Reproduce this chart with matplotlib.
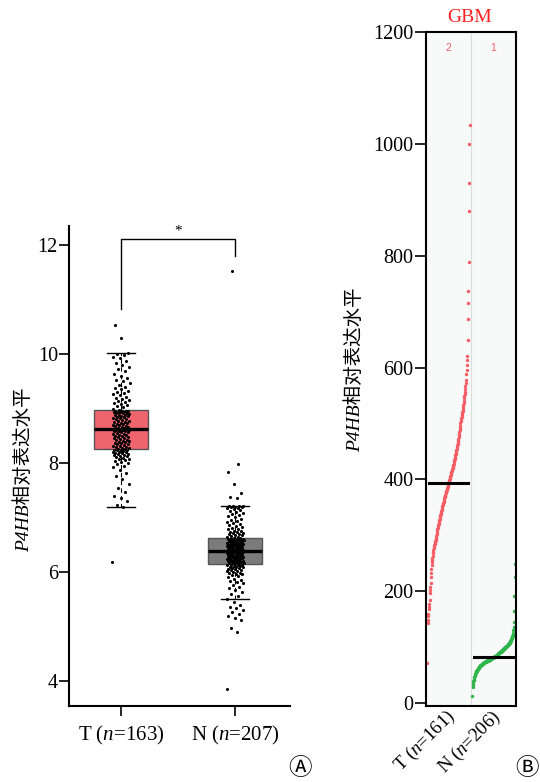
import matplotlib
matplotlib.use("Agg")
import matplotlib.pyplot as plt
import numpy as np

# ───────────────────────── data ───────────────────────── #

# panel A: P4HB expression, tumour vs normal (sorted values)
tumor_vals = [
    6.19,
    7.19, 7.22, 7.30, 7.35, 7.40, 7.46, 7.55, 7.62, 7.70, 7.76, 7.82, 7.88,
    7.92, 7.95, 7.98, 8.00, 8.02, 8.04, 8.05, 8.07, 8.08, 8.10, 8.11, 8.12, 8.13, 8.14,
    8.15, 8.16, 8.17, 8.18, 8.19, 8.20, 8.21, 8.21, 8.22, 8.23, 8.23, 8.24, 8.24, 8.25,
    8.26, 8.27, 8.28, 8.29, 8.30, 8.31, 8.32, 8.33, 8.34, 8.35, 8.36, 8.37, 8.38, 8.39,
    8.40, 8.41, 8.42, 8.43, 8.44, 8.45, 8.46, 8.47, 8.48, 8.49, 8.50, 8.51, 8.52, 8.53,
    8.54, 8.55, 8.56, 8.57, 8.58, 8.59, 8.59, 8.60, 8.61, 8.61, 8.62, 8.62,
    8.63,
    8.64, 8.65, 8.66, 8.66, 8.67, 8.68, 8.69, 8.70, 8.71, 8.72, 8.73, 8.74, 8.75, 8.76,
    8.77, 8.78, 8.79, 8.80, 8.81, 8.82, 8.83, 8.84, 8.85, 8.86, 8.87, 8.88, 8.89, 8.89,
    8.90, 8.91, 8.91, 8.92, 8.93, 8.93, 8.94, 8.94, 8.95, 8.95, 8.96, 8.96,
    8.98, 9.00, 9.02, 9.04, 9.06, 9.08, 9.10, 9.12, 9.14, 9.16, 9.18, 9.20, 9.22, 9.24,
    9.26, 9.28, 9.30, 9.32, 9.35, 9.38, 9.40, 9.43, 9.46, 9.50, 9.53, 9.56, 9.60, 9.64,
    9.68, 9.72, 9.76, 9.80, 9.84, 9.88, 9.92, 9.95, 9.98, 10.00, 10.02,
    10.29, 10.53,
]
normal_vals = [
    3.85,
    4.90, 4.97, 5.12, 5.15, 5.19, 5.22, 5.27, 5.30, 5.33, 5.36, 5.40, 5.44,
    5.50,
    5.56, 5.60, 5.63, 5.66, 5.70, 5.73, 5.76, 5.79, 5.82, 5.84, 5.86, 5.88, 5.90, 5.92,
    5.94, 5.96, 5.97, 5.98, 5.99, 6.00, 6.01, 6.02, 6.03, 6.04, 6.05, 6.06, 6.07, 6.08,
    6.09, 6.10, 6.10, 6.11, 6.11, 6.12, 6.12, 6.13, 6.13, 6.14,
    6.16, 6.16, 6.17, 6.17, 6.18, 6.18, 6.19, 6.19, 6.20, 6.20, 6.21, 6.21, 6.22, 6.22,
    6.23, 6.23, 6.24, 6.24, 6.25, 6.25, 6.26, 6.26, 6.27, 6.27, 6.28, 6.28, 6.29, 6.29,
    6.30, 6.30, 6.31, 6.31, 6.32, 6.32, 6.33, 6.33, 6.34, 6.34, 6.35, 6.35, 6.35, 6.36,
    6.36, 6.36, 6.37, 6.37, 6.37, 6.38, 6.38, 6.38, 6.38,
    6.39,
    6.39, 6.40, 6.40, 6.40, 6.41, 6.41, 6.41, 6.42, 6.42, 6.42, 6.43, 6.43, 6.44, 6.44,
    6.45, 6.45, 6.46, 6.46, 6.47, 6.47, 6.48, 6.48, 6.49, 6.49, 6.50, 6.50, 6.51, 6.51,
    6.52, 6.52, 6.53, 6.53, 6.54, 6.54, 6.55, 6.55, 6.56, 6.56, 6.57, 6.57, 6.58, 6.58,
    6.59, 6.59, 6.59, 6.60, 6.60, 6.60, 6.60, 6.60, 6.61,
    6.62, 6.63, 6.64, 6.65, 6.66, 6.67, 6.68, 6.69, 6.70, 6.71, 6.72, 6.73, 6.74, 6.75,
    6.76, 6.78, 6.79, 6.80, 6.82, 6.84, 6.86, 6.88, 6.90, 6.92, 6.94, 6.96, 6.98, 7.00,
    7.02, 7.04, 7.06, 7.08, 7.10, 7.12, 7.14, 7.16, 7.17, 7.18, 7.19, 7.20, 7.20, 7.21,
    7.21, 7.21, 7.21,
    7.35, 7.38, 7.45, 7.61, 7.83, 7.98, 11.52,
]
group_labels_a = ["T ($n$=163)", "N ($n$=207)"]

# panel B: GBM expression (sorted), tumour (n=161) and normal (n=206)
gbm_tumor = [
    72,
    143, 148, 155, 160, 168, 172, 178, 185, 197, 202, 207,
    215, 225, 232, 240, 247, 252, 256, 260, 264,
    268, 271, 274, 277, 280, 282, 284, 286, 288, 290, 291, 293, 296, 299,
    302, 305, 308, 311, 313, 315, 318, 320, 322, 325, 327, 330, 332, 334, 336, 338, 340,
    342, 344, 346, 348, 350, 352, 354, 356, 358, 360, 362, 364, 366, 368, 370, 371, 373,
    375, 377, 378, 380, 381, 383, 385, 386, 388, 390, 391, 393,
    395, 397, 399, 401, 402, 404, 406, 408, 410, 411, 413, 415, 417, 418, 420, 422,
    424, 426, 428, 431, 433, 435, 437, 439, 441, 443, 446, 448, 450, 452, 455, 458,
    461, 464, 467, 470, 473, 476, 479, 482, 485, 489, 492, 496, 501,
    504, 507, 510, 512, 515, 518, 520, 523, 526, 529,
    533, 537, 541, 545, 549, 553, 557, 562, 567, 572, 578,
    588, 596, 605,
    613, 620, 649, 687, 715, 737, 789, 880, 930, 1000, 1034,
]
gbm_normal = [
    13, 29, 32, 35, 37, 39, 41, 42, 44, 46, 47, 49, 50, 51, 53, 54,
    55, 56, 56, 57, 58, 58, 59, 60, 60, 61, 61, 62, 62, 63, 63, 64, 64, 65, 65, 66, 66,
    67, 67, 68, 68,
    68, 69, 69, 69, 70, 70, 70, 70, 71, 71, 71, 71, 72, 72, 72, 72, 73, 73, 73, 73,
    74, 74, 74, 74, 75, 75, 75, 75, 75, 76, 76, 76, 76, 76, 77, 77, 77, 77, 77,
    78, 78, 78, 78, 78, 79, 79, 79, 79, 79, 80, 80, 80, 80, 80, 81, 81, 81, 81, 81,
    82, 82, 82, 82,
    82, 83, 83, 83, 83, 84, 84, 84, 84, 85, 85, 85, 85, 86, 86, 86, 87, 87, 87,
    88, 88, 88, 89, 89, 89, 90, 90, 90, 91, 91, 91, 92, 92, 92, 93, 93, 93,
    94, 94, 94, 94, 95, 95, 95, 95,
    96, 96, 97, 97, 97, 98, 98, 98, 99, 99, 99, 100, 100, 100, 101, 101, 102, 102, 102,
    103, 103, 104, 104, 104, 105, 105, 106, 106, 107, 107, 108, 108, 109, 109,
    110, 111, 112, 113, 113, 114, 115, 116, 117, 118, 119, 120, 121, 122, 124, 125,
    130, 136, 145, 165, 191, 225, 249,
]
group_labels_b = ["T ($n$=161)", "N ($n$=206)"]

# ───────────────────────── style ───────────────────────── #

SERIF = "Liberation Serif"
plt.rcParams["font.family"] = [SERIF, "Noto Sans CJK SC", "DejaVu Sans"]
plt.rcParams["mathtext.fontset"] = "custom"
plt.rcParams["mathtext.rm"] = SERIF
plt.rcParams["mathtext.it"] = SERIF + ":italic"

YLABEL = "P4HB相对表达水平"
LABEL_FAMILY = [SERIF, "Noto Sans CJK SC"]

fig = plt.figure(figsize=(5.4, 7.82), dpi=100)

# ───────────────────────── panel A ───────────────────────── #

ax = fig.add_axes([0.1278, 0.0972, 0.409, 0.6138])
bp = ax.boxplot([tumor_vals, normal_vals], positions=[0, 1], widths=0.48,
                patch_artist=True, showfliers=False, whis=1.5, capwidths=0.24,
                medianprops=dict(color="black", lw=2.4),
                whiskerprops=dict(color="black", lw=0.8, ls=(0, (4, 3))),
                capprops=dict(color="black", lw=1.0),
                boxprops=dict(edgecolor="#555555", lw=1.0))
for patch, fc in zip(bp["boxes"], ["#f0656d", "#7b7b7b"]):
    patch.set_facecolor(fc)

for pos, vals in enumerate([tumor_vals, normal_vals]):
    vals = np.asarray(vals)
    jitter = ((np.arange(len(vals)) * 0.618034) % 1 - 0.5) * 0.15
    ax.scatter(pos + jitter, vals, s=5, color="black", lw=0, zorder=3)

# significance bracket
ax.plot([0, 0, 1, 1], [10.83, 12.11, 12.11, 11.80], color="black", lw=1.0)
ax.text(0.5, 12.13, "*", ha="center", va="bottom", fontsize=11)

ax.set_xlim(-0.456, 1.48)
ax.set_ylim(3.54, 12.35)
ax.set_yticks([4, 6, 8, 10, 12])
ax.set_xticks([0, 1])
ax.set_xticklabels(group_labels_a)
ax.tick_params(axis="y", length=7, width=1.2, pad=1, labelsize=14.5)
ax.tick_params(axis="x", length=7, width=1.2, pad=6, labelsize=15)
for side in ("top", "right"):
    ax.spines[side].set_visible(False)
for side in ("left", "bottom"):
    ax.spines[side].set_linewidth(1.5)

fig.text(0.043, 0.399, YLABEL, rotation=90, ha="center", va="center",
         fontsize=14, style="italic", family=LABEL_FAMILY)

# ───────────────────────── panel B ───────────────────────── #

bx = fig.add_axes([0.789, 0.0972, 0.1667, 0.8619])
bx.set_facecolor("#f8f9f9")
bx.axvline(1, color="#dcdcdc", lw=0.8, zorder=0)

for offset, vals, col in [(0, gbm_tumor, "#f55d66"), (1, gbm_normal, "#2fb54a")]:
    vals = np.asarray(vals)
    xs = offset + 0.03 + 0.94 * np.arange(len(vals)) / (len(vals) - 1)
    bx.scatter(xs, vals, s=6, color=col, lw=0, zorder=2)
    bx.plot([offset + 0.07, offset + 0.93], [np.median(vals)] * 2,
            color="black", lw=2.2, zorder=3)

bx.text(0.5, 0.984, "2", transform=bx.get_xaxis_transform(), ha="center",
        va="top", fontsize=7.5, color="#f55d66", family="Liberation Sans")
bx.text(1.5, 0.984, "1", transform=bx.get_xaxis_transform(), ha="center",
        va="top", fontsize=7.5, color="#f55d66", family="Liberation Sans")

bx.set_xlim(0, 2)
bx.set_ylim(-5, 1200)
bx.set_yticks(range(0, 1201, 200))
bx.set_xticks([])
bx.tick_params(axis="y", length=8, width=1.2, pad=1, labelsize=14.5)
for sp in bx.spines.values():
    sp.set_linewidth(1.5)

for xpos, lab in zip([0.5, 1.5], group_labels_b):
    bx.annotate(lab, xy=(xpos, 0), xycoords=("data", "axes fraction"),
                xytext=(3, -5.5), textcoords="offset points",
                rotation=45, rotation_mode="anchor", ha="right", va="center",
                fontsize=13.5)

fig.text(0.870, 0.978, "GBM", ha="center", va="center", fontsize=14,
         color="#ff2020")
fig.text(0.657, 0.527, YLABEL, rotation=90, ha="center", va="center",
         fontsize=14, style="italic", family=LABEL_FAMILY)

# panel markers
circ_family = ["DejaVu Sans", "Noto Sans CJK SC"]
fig.text(0.556, 0.018, "\u24b6", ha="center", va="center", fontsize=17,
         family=circ_family)
fig.text(0.976, 0.018, "\u24b7", ha="center", va="center", fontsize=17,
         family=circ_family)

fig.savefig("out.png", dpi=100)
